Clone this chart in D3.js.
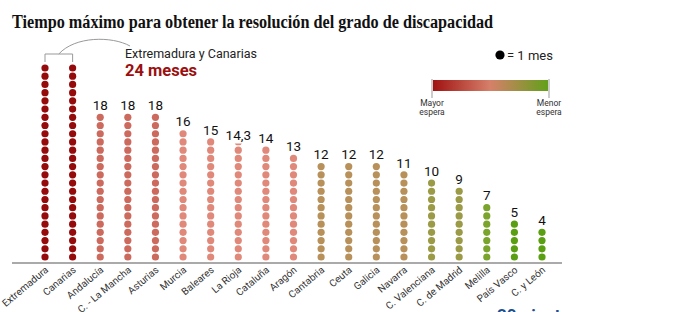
<!DOCTYPE html>
<html>
<head>
<meta charset="utf-8">
<script src="https://cdn.jsdelivr.net/npm/d3@7"></script>
<style>
  body { margin: 0; background: #fff; }
  svg { display: block; font-family: Roboto, sans-serif; }
</style>
</head>
<body>
<svg width="690" height="312"></svg>
<script>
var regions = ["Extremadura", "Canarias", "Andalucía", "C. - La Mancha", "Asturias", "Murcia",
  "Baleares", "La Rioja", "Cataluña", "Aragón", "Cantabria", "Ceuta", "Galicia", "Navarra",
  "C. Valenciana", "C. de Madrid", "Melilla", "País Vasco", "C. y León"];
var months = [24, 24, 18, 18, 18, 16, 15, 14.3, 14, 13, 12, 12, 12, 11, 10, 9, 7, 5, 4];
var colorBreaks = [6, 8, 11, 13, 17, 20];
var colorSteps = ["#5a9f12", "#7ba42c", "#9b9a46", "#b8905a", "#e0897a", "#cc6a5e", "#950b0b"];

var svg = d3.select("svg");

var xScale = d3.scalePoint()
      .domain(regions)
      .range([45, 542]);
var yScale = d3.scaleLinear()
      .domain([1, 24])
      .range([257, 68]);
var color = d3.scaleThreshold()
      .domain(colorBreaks)
      .range(colorSteps);

var r = 3.6;

// title
svg.append("text")
      .attr("x", 12)
      .attr("y", 28)
      .attr("font-family", "Liberation Serif, serif")
      .attr("font-weight", "bold")
      .attr("font-size", 18.5)
      .attr("textLength", 481)
      .attr("lengthAdjust", "spacingAndGlyphs")
      .attr("fill", "#111")
      .text("Tiempo máximo para obtener la resolución del grado de discapacidad");

// baseline
svg.append("line")
      .attr("x1", 12).attr("x2", 562)
      .attr("y1", 263).attr("y2", 263)
      .attr("stroke", "#aaa")
      .attr("stroke-width", 2);

var rows = regions.map((d, i) => ({name: d, v: months[i]}));

var defs = svg.append("defs");

var cols = svg.append("g").selectAll("g")
      .data(rows)
      .enter()
      .append("g");

cols.selectAll("circle")
      .data(d => d3.range(1, Math.floor(d.v) + 1).map(k => ({k: k, d: d})))
      .enter()
      .append("circle")
      .attr("cx", e => xScale(e.d.name))
      .attr("cy", e => yScale(e.k))
      .attr("r", r)
      .attr("fill", e => color(e.d.v));

// partial dot for fractional values
rows.filter(d => d.v % 1 > 0).forEach(function(d, i) {
  var k = Math.ceil(d.v);
  var frac = d.v - Math.floor(d.v);
  var id = "clip" + i;
  defs.append("clipPath").attr("id", id)
      .append("rect")
      .attr("x", xScale(d.name) - r - 1)
      .attr("y", yScale(k) + r - frac * 2 * r)
      .attr("width", 2 * r + 2)
      .attr("height", frac * 2 * r);
  svg.append("circle")
      .attr("cx", xScale(d.name))
      .attr("cy", yScale(k))
      .attr("r", r)
      .attr("fill", color(d.v))
      .attr("clip-path", "url(#" + id + ")");
});

// value labels (not for the annotated pair)
svg.append("g").selectAll("text")
      .data(rows.filter(d => d.v < 24))
      .enter()
      .append("text")
      .attr("x", d => xScale(d.name))
      .attr("y", d => yScale(d.v) - 7.3)
      .attr("text-anchor", "middle")
      .attr("font-size", 13.5)
      .attr("fill", "#111")
      .text(d => String(d.v).replace(".", ","));

// category labels
svg.append("g").selectAll("text")
      .data(regions)
      .enter()
      .append("text")
      .attr("transform", d => "translate(" + (xScale(d) + 4) + ",271) rotate(-40)")
      .attr("text-anchor", "end")
      .attr("font-size", 10)
      .attr("fill", "#333")
      .text(d => d);

// bracket annotation
var bx1 = xScale(regions[0]), bx2 = xScale(regions[1]);
svg.append("path")
      .attr("d", "M" + bx1 + ",62V54H" + bx2 + "V62")
      .attr("fill", "none")
      .attr("stroke", "#999")
      .attr("stroke-width", 1);
svg.append("path")
      .attr("d", "M" + ((bx1 + bx2) / 2) + ",54C75,36 112,36 130,46")
      .attr("fill", "none")
      .attr("stroke", "#999")
      .attr("stroke-width", 1);
svg.append("text")
      .attr("x", 125).attr("y", 58)
      .attr("font-size", 12.5)
      .attr("fill", "#222")
      .text("Extremadura y Canarias");
svg.append("text")
      .attr("x", 125).attr("y", 76)
      .attr("font-size", 16.5)
      .attr("font-weight", "bold")
      .attr("fill", "#9b0f0f")
      .text("24 meses");

// legend
svg.append("circle")
      .attr("cx", 500).attr("cy", 55).attr("r", 4.6)
      .attr("fill", "#000");
svg.append("text")
      .attr("x", 507).attr("y", 59.5)
      .attr("font-size", 13)
      .attr("fill", "#222")
      .text("= 1 mes");

var grad = defs.append("linearGradient").attr("id", "wait");
grad.selectAll("stop")
      .data(["#a01212", "#d6806a", "#62a01a"])
      .enter()
      .append("stop")
      .attr("offset", (d, i) => i / 2)
      .attr("stop-color", d => d);
svg.append("rect")
      .attr("x", 433).attr("y", 80)
      .attr("width", 115).attr("height", 11)
      .attr("fill", "url(#wait)");
[432, 549].forEach(function(x) {
  svg.append("line")
      .attr("x1", x).attr("x2", x)
      .attr("y1", 79).attr("y2", 98)
      .attr("stroke", "#999");
});
[["Mayor", "espera", 432], ["Menor", "espera", 549]].forEach(function(t) {
  var tx = svg.append("text")
      .attr("text-anchor", "middle")
      .attr("font-size", 8.5)
      .attr("fill", "#333");
  tx.append("tspan").attr("x", t[2]).attr("y", 106).text(t[0]);
  tx.append("tspan").attr("x", t[2]).attr("y", 115).text(t[1]);
});

// source logo, cut by the frame
svg.append("text")
      .attr("x", 497).attr("y", 321)
      .attr("font-size", 17)
      .attr("font-weight", "bold")
      .attr("fill", "#1d4f8f")
      .text("20minutos");
</script>
</body>
</html>
